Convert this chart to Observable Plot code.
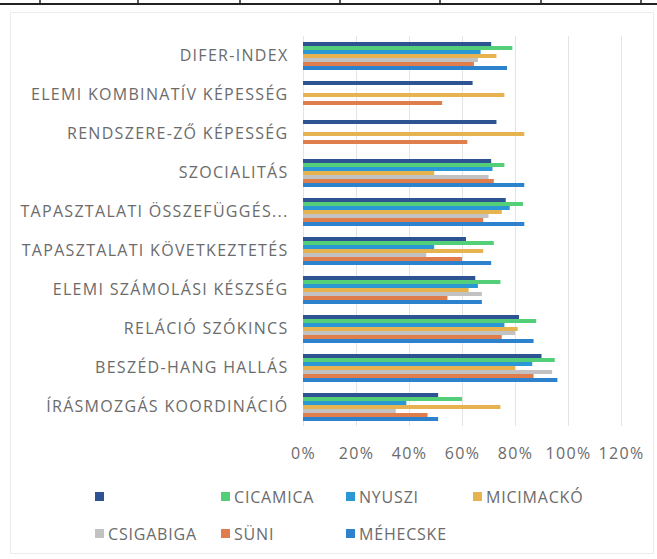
<!DOCTYPE html>
<html><head><meta charset="utf-8">
<script src="https://cdn.jsdelivr.net/npm/d3@7"></script>
<script src="https://cdn.jsdelivr.net/npm/@observablehq/plot@0.6"></script>
<style>
body{margin:0;background:#fff;font-family:"Open Sans",sans-serif;}
#wrap{position:relative;width:657px;height:559px;overflow:hidden;background:#fff;}
#deco{position:absolute;left:0;top:0;}
#frame{position:absolute;left:10px;top:12px;width:644px;height:542px;border:1px solid #ececec;box-sizing:border-box;}
#chart{position:absolute;left:0;top:0;}
#chart svg text{letter-spacing:1.3px;}
#legend{position:absolute;left:95px;top:478px;display:grid;grid-template-columns:126px 125px 127px 130px;grid-auto-rows:37px;font-size:16px;color:#6b6b6b;letter-spacing:0.8px;}
#legend .item{display:flex;align-items:center;white-space:nowrap;}
#legend .sw{width:9px;height:9px;margin-right:4px;flex:none;}
</style></head><body>
<div id="wrap">
<svg id="deco" width="657" height="20"></svg>
<div id="frame"></div>
<div id="chart"></div>
<div id="legend"></div>
</div>
<script>
const categories = ["DIFER-INDEX","ELEMI KOMBINATÍV KÉPESSÉG","RENDSZERE-ZŐ KÉPESSÉG","SZOCIALITÁS","TAPASZTALATI ÖSSZEFÜGGÉS...","TAPASZTALATI KÖVETKEZTETÉS","ELEMI SZÁMOLÁSI KÉSZSÉG","RELÁCIÓ SZÓKINCS","BESZÉD-HANG HALLÁS","ÍRÁSMOZGÁS KOORDINÁCIÓ"];
const seriesNames = ["","CICAMICA","NYUSZI","MICIMACKÓ","CSIGABIGA","SÜNI","MÉHECSKE"];
const seriesColors = ["#2d5393","#52cf78","#2a98d4","#e6b350","#c2c2c2","#df7d4c","#2c82cc"];
const s1        = [0.71, 0.64, 0.73, 0.71, 0.765, 0.615, 0.65, 0.815, 0.90, 0.51];
const cicamica  = [0.79, null, null, 0.76, 0.83, 0.72, 0.745, 0.88, 0.95, 0.60];
const nyuszi    = [0.67, null, null, 0.715, 0.78, 0.495, 0.66, 0.76, 0.865, 0.39];
const micimacko = [0.73, 0.76, 0.835, 0.495, 0.75, 0.68, 0.625, 0.81, 0.80, 0.745];
const csigabiga = [0.66, null, null, 0.70, 0.70, 0.465, 0.675, 0.80, 0.94, 0.35];
const suni      = [0.645, 0.525, 0.62, 0.72, 0.68, 0.60, 0.545, 0.75, 0.87, 0.47];
const mehecske  = [0.77, null, null, 0.835, 0.835, 0.71, 0.675, 0.87, 0.96, 0.51];
const xTicks = [0, 0.2, 0.4, 0.6, 0.8, 1.0, 1.2];

const seriesValues = [s1, cicamica, nyuszi, micimacko, csigabiga, suni, mehecske];
const seriesIds = seriesNames.map((n, j) => "s" + j);
const data = [];
categories.forEach((c, i) => {
  seriesValues.forEach((vals, j) => {
    if (vals[i] != null) data.push({category: c, series: seriesIds[j], value: vals[i]});
  });
});

const chart = Plot.plot({
  width: 657, height: 470,
  marginTop: 36, marginBottom: 44, marginLeft: 303, marginRight: 36,
  style: {fontFamily: "Open Sans", fontSize: "16px", color: "#6b6b6b", background: "transparent"},
  x: {domain: [0, 1.2], axis: null},
  fy: {domain: categories, padding: 0, axis: null},
  y: {domain: seriesIds, axis: null, paddingInner: 0.06, paddingOuter: 0.75},
  color: {domain: seriesIds, range: seriesColors},
  marks: [
    Plot.gridX(xTicks, {stroke: "#e4e4e4", strokeOpacity: 1}),
    Plot.barX(data, {fy: "category", y: "series", x: "value", fill: "series"}),
    Plot.axisX(xTicks, {anchor: "bottom", tickSize: 0, tickPadding: 21, tickFormat: d => Math.round(d * 100) + "%", label: null, fill: "#6b6b6b"}),
    Plot.axisFy({anchor: "left", tickSize: 0, tickPadding: 15, label: null, fill: "#6b6b6b"})
  ]
});
document.getElementById("chart").appendChild(chart);

// table border decoration above chart
const deco = d3.select("#deco");
deco.append("line").attr("x1", 0).attr("x2", 657).attr("y1", 4).attr("y2", 4).attr("stroke", "#222").attr("stroke-width", 2);
[40, 138, 240, 340, 440, 541, 641].forEach(x => deco.append("line").attr("x1", x).attr("x2", x).attr("y1", 0).attr("y2", 5).attr("stroke", "#222").attr("stroke-width", 1.5));

// legend
const legend = d3.select("#legend");
seriesNames.forEach((name, j) => {
  const it = legend.append("div").attr("class", "item");
  it.append("div").attr("class", "sw").style("background", seriesColors[j]);
  it.append("span").text(name);
});
</script>
</body></html>
